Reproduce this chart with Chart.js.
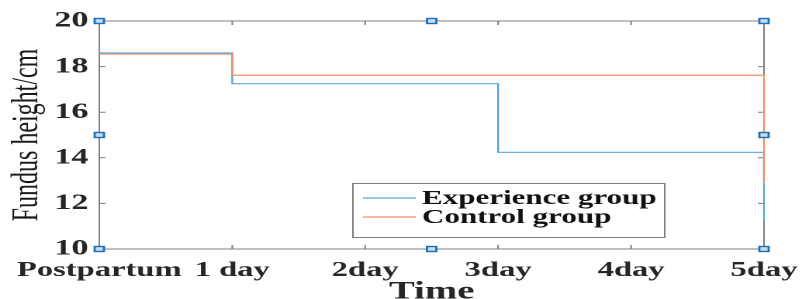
<!DOCTYPE html>
<html>
<head>
<meta charset="utf-8">
<script src="https://cdn.jsdelivr.net/npm/chart.js@4"></script>
<style>
  html, body { margin: 0; padding: 0; background: #fff; overflow: hidden; }
  /* the reference is stretched sideways, so the canvas is too */
  #wrap { width: 517px; height: 299px; transform: scaleX(1.5513); transform-origin: 0 0; }
</style>
</head>
<body>
<div id="wrap"><canvas id="chartFundus" width="517" height="299"></canvas></div>
<script>
// ===== DATA =====
const categories = ["Postpartum", "1 day", "2day", "3day", "4day", "5day"];
const experienceGroup = [18.6, 17.25, 17.25, 14.24, 14.24, 11.2];
const controlGroup = [18.55, 17.62, 17.62, 17.62, 17.62, 12.9];
const yTicks = [10, 12, 14, 16, 18, 20];
const seriesNames = ["Experience group", "Control group"];

const serif = "'Liberation Serif', 'Times New Roman', serif";
const textColor = "#262626";

// ===== FRAME, TICKS, HANDLES, LEGEND =====
const framePlugin = {
  id: "frame",
  beforeDatasetsDraw(chart) {
    const { ctx, chartArea: a, scales: { x, y } } = chart;
    ctx.save();
    ctx.strokeStyle = "#808080";
    ctx.lineWidth = 1;
    ctx.strokeRect(a.left, a.top, a.right - a.left, a.bottom - a.top);
    ctx.beginPath();
    x.ticks.forEach((t, i) => {
      const px = x.getPixelForTick(i);
      ctx.moveTo(px, a.bottom); ctx.lineTo(px, a.bottom - 4);
      ctx.moveTo(px, a.top); ctx.lineTo(px, a.top + 4);
    });
    y.ticks.forEach((t, i) => {
      const py = y.getPixelForTick(i);
      ctx.moveTo(a.left, py); ctx.lineTo(a.left + 4, py);
      ctx.moveTo(a.right, py); ctx.lineTo(a.right - 4, py);
    });
    ctx.stroke();
    ctx.restore();
  },
  afterDatasetsDraw(chart) {
    const { ctx, chartArea: a } = chart;
    ctx.save();

    // selection handles round the axes box
    const xs = [a.left, (a.left + a.right) / 2, a.right];
    const ys = [a.top, (a.top + a.bottom) / 2, a.bottom];
    ctx.fillStyle = "#c4dcf2";
    ctx.strokeStyle = "#1f6db5";
    ctx.lineWidth = 1.4;
    xs.forEach((hx, i) => {
      ys.forEach((hy, j) => {
        if (i === 1 && j === 1) return;
        ctx.fillRect(hx - 3, hy - 2.5, 6, 5);
        ctx.strokeRect(hx - 3, hy - 2.5, 6, 5);
      });
    });

    // legend box
    const bx = 227.5, by = 183.5, bw = 201, bh = 54;
    ctx.fillStyle = "#fff";
    ctx.fillRect(bx, by, bw, bh);
    ctx.strokeStyle = "#808080";
    ctx.lineWidth = 1;
    ctx.strokeRect(bx, by, bw, bh);
    ctx.font = "bold 20px " + serif;
    ctx.textBaseline = "middle";
    ctx.textAlign = "left";
    chart.data.datasets.forEach((ds, i) => {
      const ly = 198 + i * 19;
      ctx.strokeStyle = ds.borderColor;
      ctx.lineWidth = 1.2;
      ctx.beginPath();
      ctx.moveTo(234, ly); ctx.lineTo(268, ly);
      ctx.stroke();
      ctx.fillStyle = "#111";
      ctx.fillText(ds.label, 272, ly + 1);
    });
    ctx.restore();
  }
};

// ===== CHART =====
new Chart(document.getElementById("chartFundus"), {
  type: "line",
  data: {
    labels: categories,
    datasets: [
      {
        label: seriesNames[0],
        data: experienceGroup,
        borderColor: "#5aa5dc",
        borderWidth: 1.2,
        stepped: true,
        pointRadius: 0,
        fill: false,
        order: 1
      },
      {
        label: seriesNames[1],
        data: controlGroup,
        borderColor: "#f0906a",
        borderWidth: 1.2,
        stepped: true,
        pointRadius: 0,
        fill: false,
        order: 0
      }
    ]
  },
  options: {
    responsive: false,
    animation: false,
    devicePixelRatio: 2,
    layout: { padding: { top: 21, right: 24.5, left: 0, bottom: 0 } },
    plugins: { legend: { display: false }, tooltip: { enabled: false } },
    scales: {
      x: {
        type: "category",
        offset: false,
        grid: { display: false, drawTicks: false },
        border: { display: false },
        ticks: {
          autoSkip: false, maxRotation: 0, minRotation: 0, padding: 9,
          color: textColor,
          font: { family: serif, size: 21, weight: "bold" }
        },
        title: {
          display: true, text: "Time", color: textColor,
          font: { family: serif, size: 25, weight: "bold", lineHeight: 0.55 },
          padding: { top: 0, bottom: 0 }
        },
        afterFit(s) { s.height = 50; s.paddingLeft = 0; s.paddingRight = 0; }
      },
      y: {
        min: 10,
        max: 20,
        afterBuildTicks(s) { s.ticks = yTicks.map(v => ({ value: v })); },
        grid: { display: false, drawTicks: false },
        border: { display: false },
        ticks: {
          padding: 7,
          color: textColor,
          font: { family: serif, size: 22, weight: "bold" }
        },
        title: {
          display: true, text: "Fundus height/cm", color: "#1a1a1a",
          font: { family: serif, size: 24, weight: "normal" },
          padding: { top: 3.5, bottom: 0 }
        },
        afterFit(s) { s.width = 64; s.paddingTop = 0; s.paddingBottom = 0; }
      }
    }
  },
  plugins: [framePlugin]
});
</script>
</body>
</html>
